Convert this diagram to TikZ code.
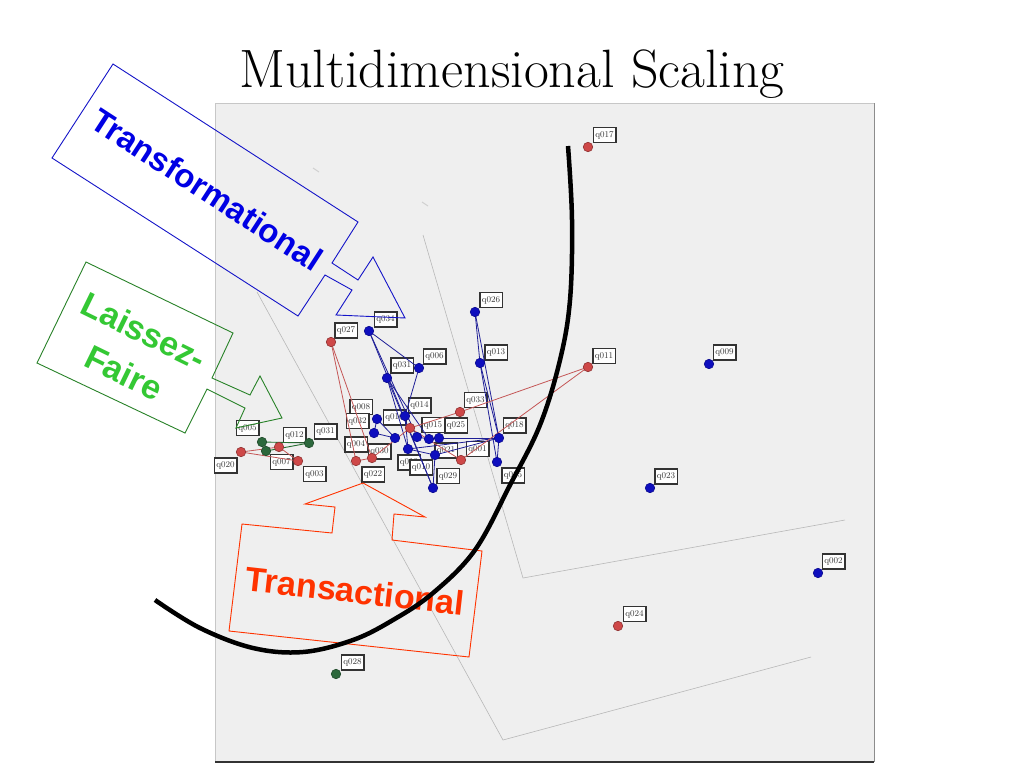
\documentclass[tikz,border=0pt]{standalone}
\usepackage{fontspec}
\newfontfamily\arialfont{Liberation Sans}
\definecolor{panelgray}{RGB}{239,239,239}
\definecolor{bluept}{RGB}{14,14,190}
\definecolor{redpt}{RGB}{206,72,72}
\definecolor{greenpt}{RGB}{44,104,60}
\definecolor{blueline}{RGB}{30,30,150}
\definecolor{redline}{RGB}{196,86,86}
\definecolor{greenline}{RGB}{36,110,48}
\definecolor{tfblue}{RGB}{0,0,228}
\definecolor{tfline}{RGB}{20,20,200}
\definecolor{lfgreen}{RGB}{52,200,52}
\definecolor{lfline}{RGB}{40,130,40}
\definecolor{taorange}{RGB}{255,51,0}
\begin{document}
\begin{tikzpicture}[x=1pt,y=-1pt,
  ptb/.style={circle,fill=bluept,draw=bluept!75!black,line width=0.6pt,inner sep=0pt,minimum size=9.5pt},
  ptr/.style={circle,fill=redpt,draw=redpt!70!black,line width=0.6pt,inner sep=0pt,minimum size=9.5pt},
  ptg/.style={circle,fill=greenpt,draw=greenpt!70!black,line width=0.6pt,inner sep=0pt,minimum size=9.5pt},
  lab/.style={draw=black!80,line width=1.5pt,fill=white,inner sep=0pt,minimum width=22.5pt,minimum height=15pt,
    font=\fontsize{8.8}{9}\selectfont,text=black!80},
  bl/.style={draw=blueline,line width=0.8pt},
  rl/.style={draw=redline,line width=0.8pt},
  gl/.style={draw=greenline,line width=0.9pt},
  axisline/.style={draw=black!28,line width=0.6pt},
  callout/.style={line width=0.9pt,line join=miter},
  bigtext/.style={font=\arialfont\bfseries\fontsize{33}{44}\selectfont,inner sep=0pt}
]
\useasboundingbox (0,0) rectangle (1024,768);
\fill[white] (0,0) rectangle (1024,768);

% title
\node[anchor=base,inner sep=0pt] (title) at (512,87) {\fontsize{54}{58}\selectfont Multidimensional Scaling};

% plot panel
\fill[panelgray] (215,103) rectangle (874,762);
\draw[black!22,line width=0.8pt] (215,762) -- (215,103) -- (874,103);
\draw[black!45,line width=1pt] (874,103) -- (874,762);
\draw[black!80,line width=1.6pt] (215,762) -- (874,762);

% axis-like gray lines
\draw[axisline] (423,235) -- (523,578) -- (845,520);
\draw[axisline] (257,292) -- (503,740) -- (811,657);
\draw[black!18,line width=1pt] (313,168) -- (319,172);
\draw[black!18,line width=1pt] (422,202) -- (428,206);

% labels
\node[lab] (lq017) at (604.5,135) {q017};
\node[lab] (lq026) at (491,300) {q026};
\node[lab] (lq034) at (385.5,319.5) {q034};
\node[lab] (lq027) at (346,330.5) {q027};
\node[lab] (lq013) at (496,352.5) {q013};
\node[lab] (lq011) at (604,356) {q011};
\node[lab] (lq009) at (724.5,352.5) {q009};
\node[lab] (lq006) at (434.5,356.5) {q006};
\node[lab] (lq031a) at (402,365.5) {q031};
\node[lab] (lq008) at (361,407) {q008};
\node[lab] (lq014) at (419.5,405.5) {q014};
\node[lab] (lq033) at (475.5,400) {q033};
\node[lab] (lq016) at (394.5,417.5) {q016};
\node[lab] (lq032) at (357.5,421) {q032};
\node[lab] (lq015) at (433,425) {q015};
\node[lab] (lq025) at (456,425.5) {q025};
\node[lab] (lq018) at (514.5,425.5) {q018};
\node[lab] (lq004) at (356,444.5) {q004};
\node[lab] (lq030) at (379.5,451.5) {q030};
\node[lab] (lq021) at (446,450.5) {q021};
\node[lab] (lq001) at (477.5,449) {q001};
\node[lab] (lq019) at (409,462.5) {q019};
\node[lab] (lq010) at (421,467.5) {q010};
\node[lab] (lq022) at (373,474.5) {q022};
\node[lab] (lq029) at (448,476) {q029};
\node[lab] (lq035) at (513,475.5) {q035};
\node[lab] (lq005) at (247.5,428) {q005};
\node[lab] (lq012) at (294.5,435) {q012};
\node[lab] (lq031b) at (325.5,431.5) {q031};
\node[lab] (lq020) at (225.5,465.5) {q020};
\node[lab] (lq007) at (281.5,462) {q007};
\node[lab] (lq003) at (314.5,474) {q003};
\node[lab] (lq023) at (666,476.5) {q023};
\node[lab] (lq002) at (833.5,561.5) {q002};
\node[lab] (lq024) at (634.5,614) {q024};
\node[lab] (lq028) at (352.5,662.5) {q028};

% dot positions
\coordinate (dq026) at (475,312);
\coordinate (dq013) at (480,363);
\coordinate (dq034) at (369,331);
\coordinate (dq006) at (419,368);
\coordinate (dq031) at (387,378);
\coordinate (dq014) at (405,416);
\coordinate (b1) at (377,419);
\coordinate (b2) at (374,433);
\coordinate (b3) at (395,438);
\coordinate (b4) at (417,437);
\coordinate (b5) at (429,439);
\coordinate (b6) at (439,438);
\coordinate (b7) at (408,449);
\coordinate (b8) at (435,455);
\coordinate (dq029) at (433,488);
\coordinate (dq018) at (499,438);
\coordinate (dq035) at (497,462);
\coordinate (dq027) at (331,342);
\coordinate (r1) at (410,428);
\coordinate (dq033) at (460,412);
\coordinate (r2) at (461,460);
\coordinate (r3) at (356,461);
\coordinate (r4) at (372,458);
\coordinate (dq011) at (588,367);
\coordinate (r5) at (241,452);
\coordinate (r6) at (279,447);
\coordinate (r7) at (298,461);
\coordinate (g1) at (262,442);
\coordinate (g2) at (266,451);
\coordinate (g3) at (309,443);

% blue group lines
\draw[bl] (dq026) -- (dq013);
\draw[bl] (dq026) -- (dq018);
\draw[bl] (dq013) -- (dq035);
\draw[bl] (dq013) -- (dq018);
\draw[bl] (dq018) -- (dq035);
\draw[bl] (dq034) -- (dq006);
\draw[bl] (dq034) -- (dq029);
\draw[bl] (dq034) -- (b4);
\draw[bl] (dq031) -- (dq029);
\draw[bl] (dq031) -- (b5);
\draw[bl] (dq031) -- (b7);
\draw[bl] (dq006) -- (dq014);
\draw[bl] (dq014) -- (b7);
\draw[bl] (b1) -- (b2);
\draw[bl] (b1) -- (b3);
\draw[bl] (b2) -- (b3);
\draw[bl] (b4) -- (b5) -- (b6);
\draw[bl] (b6) -- (dq018);
\draw[bl] (b7) -- (dq018);
\draw[bl] (b7) -- (b8);
\draw[bl] (b8) -- (dq029);
\draw[bl] (b8) -- (dq018);

% red group lines
\draw[rl] (dq027) -- (r3);
\draw[rl] (dq027) -- (r4);
\draw[rl] (dq011) -- (dq033);
\draw[rl] (dq011) -- (r2);
\draw[rl] (dq033) -- (r1);
\draw[rl] (r1) -- (r4);
\draw[rl] (r1) -- (r2);
\draw[rl] (r3) -- (r4);
\draw[rl] (r5) -- (r6);
\draw[rl] (r5) -- (r7);
\draw[rl] (r6) -- (r7);

% green group lines
\draw[gl] (g1) -- (g3);
\draw[gl] (g2) -- (g3);
\draw[gl] (g1) -- (g2);

% dots
\foreach \n in {dq026,dq013,dq034,dq006,dq031,dq014,b1,b2,b3,b4,b5,b6,b7,b8,dq029,dq018,dq035}
  \node[ptb] at (\n) {};
\node[ptb] (dq009) at (709,364) {};
\node[ptb] (dq023) at (650,488) {};
\node[ptb] (dq002) at (818,573) {};
\foreach \n in {dq027,r1,dq033,r2,r3,r4,dq011,r5,r6,r7}
  \node[ptr] at (\n) {};
\node[ptr] (dq017) at (588,147) {};
\node[ptr] (dq024) at (618,626) {};
\foreach \n in {g1,g2,g3}
  \node[ptg] at (\n) {};
\node[ptg] (dq028) at (336,674) {};

% callouts
\draw[callout,draw=tfline] (113,64) -- (358,222) -- (332,263) -- (358,280) -- (373,257) -- (405,318)
  -- (336,315) -- (352,290) -- (325,275) -- (298,316) -- (52,158) -- cycle;
\node[bigtext,text=tfblue,rotate=-33] (tf) at (207,190) {Transformational};

\draw[callout,draw=lfline] (86,262) -- (233,333) -- (212,378) -- (250,395) -- (260,376) -- (282,418)
  -- (236,428) -- (245,408) -- (207,389) -- (185,433) -- (37,363) -- cycle;
\node[bigtext,text=lfgreen,rotate=-26,align=center,font=\arialfont\bfseries\fontsize{34}{46}\selectfont] (lf) at (134,352) {Laissez-\\Faire};

\draw[callout,draw=taorange] (242,524) -- (332,533) -- (335,507) -- (305,504) -- (363,483) -- (425,517)
  -- (394,514) -- (392,540) -- (482,551) -- (469,657) -- (229,631) -- cycle;
\node[bigtext,text=taorange,rotate=-6.4,font=\arialfont\bfseries\fontsize{34}{40}\selectfont] (ta) at (355,591) {Transactional};

% black arc
\draw[black,line width=4.5pt] plot[smooth,tension=0.6] coordinates {(568,146) (572,220) (570,300) (560,360) (540,425) (510,485) (475,550) (433,593) (393,620) (353,640) (303,652) (253,648) (200,628) (155,600)};
\end{tikzpicture}
\end{document}
